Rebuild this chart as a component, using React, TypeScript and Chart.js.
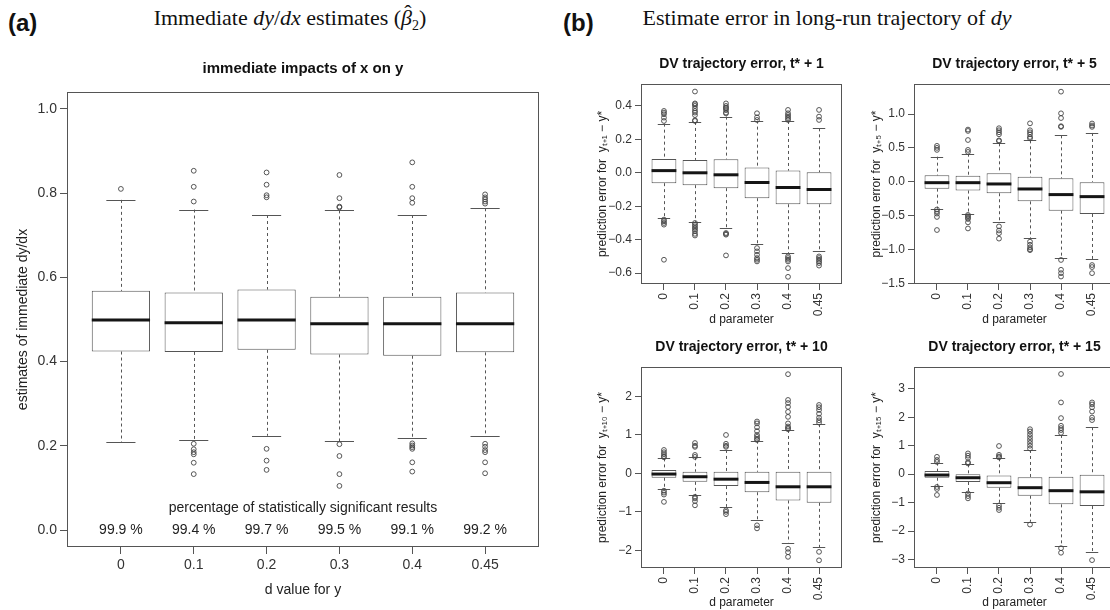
import React, { useEffect, useRef } from "react";
import { Chart, registerables } from "chart.js";

Chart.register(...registerables);

const SANS = "'Liberation Sans', Arial, Helvetica, sans-serif";
const SERIF = "'Liberation Serif', 'Times New Roman', serif";
Chart.defaults.font.family = SANS;

// ---------- shared categories ----------
const CATS = [1, 2, 3, 4, 5, 6];
const CAT_LABELS = ["0", "0.1", "0.2", "0.3", "0.4", "0.45"];
const X_MIN = 0.26;
const X_MAX = 6.74;
const BOX_W = 0.8;
const STAPLE_W = 0.4;

// ---------- panel (a): immediate impacts ----------
const A_Q1 = [0.424, 0.423, 0.428, 0.417, 0.414, 0.422];
const A_MED = [0.499, 0.492, 0.499, 0.49, 0.49, 0.49];
const A_Q3 = [0.568, 0.564, 0.571, 0.554, 0.554, 0.564];
const A_LO = [0.209, 0.214, 0.224, 0.211, 0.218, 0.223];
const A_HI = [0.784, 0.761, 0.748, 0.759, 0.748, 0.764];
const A_OUT = [
  [0.81],
  [0.853, 0.815, 0.78, 0.205, 0.192, 0.185, 0.18, 0.16, 0.133],
  [0.849, 0.82, 0.795, 0.79, 0.193, 0.165, 0.143],
  [0.843, 0.788, 0.768, 0.766, 0.204, 0.176, 0.133, 0.105],
  [0.873, 0.815, 0.788, 0.777, 0.206, 0.201, 0.197, 0.193, 0.161, 0.139],
  [0.797, 0.79, 0.785, 0.78, 0.775, 0.205, 0.198, 0.19, 0.185, 0.161, 0.135],
];
const A_PCT = ["99.9 %", "99.4 %", "99.7 %", "99.5 %", "99.1 %", "99.2 %"];
const A_PCT_CAPTION = "percentage of statistically significant results";
const A_Y_TICKS = [0, 0.2, 0.4, 0.6, 0.8, 1.0];

// ---------- panel (b1): t* + 1 ----------
const B1_Q1 = [-0.062, -0.074, -0.092, -0.152, -0.188, -0.188];
const B1_MED = [0.013, 0.0, -0.012, -0.058, -0.088, -0.1];
const B1_Q3 = [0.083, 0.077, 0.081, 0.031, 0.013, 0.004];
const B1_LO = [-0.273, -0.295, -0.331, -0.423, -0.48, -0.469];
const B1_HI = [0.294, 0.304, 0.336, 0.312, 0.31, 0.266];
const B1_OUT = [
  [0.37, 0.36, 0.35, 0.33, 0.31, -0.28, -0.29, -0.3, -0.31, -0.52],
  [0.486, 0.415, 0.41, 0.4, 0.385, 0.37, 0.36, 0.345, 0.314, 0.31, -0.3, -0.31, -0.32, -0.33, -0.34, -0.35, -0.365, -0.375],
  [0.415, 0.4, 0.39, 0.385, 0.375, 0.36, 0.355, -0.36, -0.365, -0.37, -0.494],
  [0.356, 0.332, 0.316, -0.45, -0.47, -0.49, -0.51, -0.52, -0.53],
  [0.376, 0.356, 0.345, 0.335, 0.325, 0.316, -0.5, -0.51, -0.52, -0.53, -0.57, -0.622],
  [0.376, 0.336, 0.316, -0.5, -0.51, -0.52, -0.53, -0.54, -0.555],
];
const B1_Y_TICKS = [-0.6, -0.4, -0.2, 0, 0.2, 0.4];

// ---------- panel (b2): t* + 5 ----------
const B2_Q1 = [-0.102, -0.13, -0.17, -0.29, -0.427, -0.476];
const B2_MED = [-0.014, -0.014, -0.033, -0.107, -0.19, -0.22];
const B2_Q3 = [0.094, 0.09, 0.124, 0.075, 0.05, 0.0];
const B2_LO = [-0.398, -0.47, -0.6, -0.836, -1.13, -1.14];
const B2_HI = [0.37, 0.414, 0.567, 0.611, 0.685, 0.72];
const B2_OUT = [
  [0.53, 0.5, 0.47, -0.41, -0.44, -0.47, -0.52, -0.713],
  [0.77, 0.75, 0.616, 0.47, 0.44, -0.49, -0.51, -0.53, -0.55, -0.6, -0.69],
  [0.79, 0.76, 0.73, 0.7, 0.61, 0.6, -0.66, -0.72, -0.76, -0.84],
  [0.862, 0.76, 0.73, 0.7, 0.66, 0.64, -0.885, -0.93, -0.97, -1.0, -1.01],
  [1.33, 1.01, 0.94, 0.82, 0.81, -1.155, -1.3, -1.35, -1.4],
  [0.86, 0.83, 0.81, -1.23, -1.26, -1.35],
];
const B2_Y_TICKS = [-1.5, -1.0, -0.5, 0, 0.5, 1.0];

// ---------- panel (b3): t* + 10 ----------
const B3_Q1 = [-0.113, -0.22, -0.33, -0.49, -0.704, -0.765];
const B3_MED = [-0.017, -0.087, -0.15, -0.235, -0.348, -0.348];
const B3_Q3 = [0.087, 0.043, 0.043, 0.043, 0.043, 0.043];
const B3_LO = [-0.417, -0.57, -0.87, -1.2, -1.8, -1.92];
const B3_HI = [0.39, 0.42, 0.61, 0.85, 1.13, 1.28];
const B3_OUT = [
  [0.61, 0.55, 0.5, 0.45, 0.42, -0.45, -0.5, -0.55, -0.74],
  [0.79, 0.72, 0.69, 0.48, 0.43, -0.61, -0.65, -0.72, -0.83],
  [1.0, 0.77, 0.72, 0.69, -0.96, -1.0, -1.06],
  [1.35, 1.3, 1.2, 1.1, 1.0, 0.95, 0.9, 0.87, -1.35, -1.43],
  [2.58, 1.91, 1.83, 1.73, 1.6, 1.47, 1.3, 1.22, 1.18, 1.15, -1.96, -2.05, -2.17],
  [1.78, 1.72, 1.65, 1.55, 1.45, 1.38, 1.32, -2.04, -2.26],
];
const B3_Y_TICKS = [-2, -1, 0, 1, 2];

// ---------- panel (b4): t* + 15 ----------
const B4_Q1 = [-0.125, -0.275, -0.475, -0.757, -1.06, -1.12];
const B4_MED = [-0.03, -0.125, -0.3, -0.475, -0.58, -0.62];
const B4_Q3 = [0.11, -0.005, -0.05, -0.11, -0.09, -0.02];
const B4_LO = [-0.405, -0.64, -1.03, -1.67, -2.53, -2.74];
const B4_HI = [0.405, 0.346, 0.558, 0.85, 1.38, 1.65];
const B4_OUT = [
  [0.61, 0.5, 0.43, -0.45, -0.52, -0.73],
  [0.73, 0.65, 0.57, 0.42, 0.38, -0.68, -0.77, -0.85],
  [0.99, 0.68, 0.62, 0.59, -1.1, -1.18, -1.26],
  [1.58, 1.5, 1.4, 1.3, 1.2, 1.1, 1.0, 0.9, -1.77],
  [3.52, 2.52, 1.97, 1.7, 1.62, 1.55, 1.45, -2.6, -2.76],
  [2.52, 2.45, 2.35, 2.2, 1.99, 1.9, -3.02],
];
const B4_Y_TICKS = [-3, -2, -1, 0, 1, 2, 3];

// ---------- styling ----------
const LINE = "#555555";
const MEDIAN = "#151515";
const TEXT = "#333333";
const POINT = "#444444";

const fmt1 = (v: number) => (v < 0 ? "\u2212" : "") + Math.abs(v).toFixed(1);
const fmt0 = (v: number) => (v < 0 ? "\u2212" : "") + Math.abs(v).toFixed(0);

type Spec = {
  box: { x: number; y: number; w: number; h: number };
  area: { l: number; t: number; r: number; b: number };
  title: string;
  titleSize: number;
  titleY: number;
  xTitle: string;
  xTitleY: number;
  yTitle: string;
  yTitleX: number;
  font: number;
  tickLen: number;
  yMin: number;
  yMax: number;
  yTicks: number[];
  yFmt: (v: number) => string;
  rotateX: boolean;
  q1: number[];
  med: number[];
  q3: number[];
  lo: number[];
  hi: number[];
  out: number[][];
  extra?: (chart: any) => void;
};

function boxPlugin(s: Spec) {
  return {
    id: "boxParts",
    beforeDatasetsDraw(chart: any) {
      const { ctx, scales } = chart;
      const x = scales.x;
      const y = scales.y;
      ctx.save();
      ctx.strokeStyle = LINE;
      ctx.lineWidth = 1;
      CATS.forEach((c, i) => {
        const px = Math.round(x.getPixelForValue(c)) + 0.5;
        ctx.setLineDash([3, 3]);
        ctx.beginPath();
        ctx.moveTo(px, y.getPixelForValue(s.hi[i]));
        ctx.lineTo(px, y.getPixelForValue(s.q3[i]));
        ctx.moveTo(px, y.getPixelForValue(s.q1[i]));
        ctx.lineTo(px, y.getPixelForValue(s.lo[i]));
        ctx.stroke();
        ctx.setLineDash([]);
        const x0 = x.getPixelForValue(c - STAPLE_W / 2);
        const x1 = x.getPixelForValue(c + STAPLE_W / 2);
        ctx.beginPath();
        [s.hi[i], s.lo[i]].forEach((v) => {
          const py = Math.round(y.getPixelForValue(v)) + 0.5;
          ctx.moveTo(x0, py);
          ctx.lineTo(x1, py);
        });
        ctx.stroke();
      });
      ctx.restore();
    },
    afterDatasetsDraw(chart: any) {
      const { ctx, scales, chartArea } = chart;
      const x = scales.x;
      const y = scales.y;
      ctx.save();
      ctx.strokeStyle = MEDIAN;
      ctx.lineWidth = 3;
      CATS.forEach((c, i) => {
        const py = y.getPixelForValue(s.med[i]);
        ctx.beginPath();
        ctx.moveTo(x.getPixelForValue(c - BOX_W / 2), py);
        ctx.lineTo(x.getPixelForValue(c + BOX_W / 2), py);
        ctx.stroke();
      });
      ctx.strokeStyle = LINE;
      ctx.lineWidth = 1;
      ctx.strokeRect(
        Math.round(chartArea.left) + 0.5,
        Math.round(chartArea.top) + 0.5,
        Math.round(chartArea.right - chartArea.left) - 1,
        Math.round(chartArea.bottom - chartArea.top) - 1
      );
      ctx.restore();
      if (s.extra) s.extra(chart);
    },
  };
}

function BoxPanel({ spec }: { spec: Spec }) {
  const ref = useRef<HTMLCanvasElement | null>(null);
  useEffect(() => {
    const canvas = ref.current;
    if (!canvas) return;
    const { box, area } = spec;
    const tLh = spec.titleSize * 1.2;
    const fLh = spec.font * 1.2;
    const titleTop = spec.titleY - box.y - tLh / 2;
    const titleBottom = area.t - box.y - titleTop - tLh;
    const yAxisW = area.l - box.x;
    const xAxisH = box.y + box.h - area.b;
    const padRight = box.x + box.w - area.r;
    const yTitlePad = spec.yTitleX - box.x - fLh / 2;
    const xTitlePad = Math.max(0, box.y + box.h - spec.xTitleY - fLh / 2);

    const points = spec.out.flatMap((arr, i) => arr.map((v) => ({ x: CATS[i], y: v })));
    const boxes = CATS.map((c, i) => ({ x: c, y: [spec.q1[i], spec.q3[i]] }));

    const chart = new Chart(canvas, {
      type: "bar",
      data: {
        datasets: [
          {
            type: "scatter",
            data: points,
            pointRadius: 2.4,
            pointHoverRadius: 2.4,
            pointBorderWidth: 0.9,
            borderColor: POINT,
            backgroundColor: "rgba(0,0,0,0)",
            pointStyle: "circle",
            order: 0,
          } as any,
          {
            type: "bar",
            data: boxes as any,
            backgroundColor: "#ffffff",
            borderColor: LINE,
            borderWidth: 1,
            borderSkipped: false,
            barPercentage: BOX_W,
            categoryPercentage: 1,
            order: 1,
          } as any,
        ],
      },
      options: {
        animation: false,
        responsive: false,
        devicePixelRatio: 1,
        events: [],
        layout: { padding: { top: 0, left: 0, bottom: 0, right: padRight } },
        plugins: {
          legend: { display: false },
          tooltip: { enabled: false },
          title: {
            display: true,
            text: spec.title,
            color: "#111111",
            fullSize: false,
            font: { size: spec.titleSize, weight: "bold", family: SANS },
            padding: { top: titleTop, bottom: titleBottom },
          },
        },
        scales: {
          x: {
            type: "linear",
            min: X_MIN,
            max: X_MAX,
            offset: false,
            afterBuildTicks: (sc: any) => {
              sc.ticks = CATS.map((v) => ({ value: v }));
            },
            afterFit: (sc: any) => {
              sc.height = xAxisH;
            },
            ticks: {
              autoSkip: false,
              color: TEXT,
              padding: 3,
              minRotation: spec.rotateX ? 90 : 0,
              maxRotation: spec.rotateX ? 90 : 0,
              font: { size: spec.font, family: SANS },
              callback: (v: any) => CAT_LABELS[CATS.indexOf(Number(v))] ?? "",
            },
            grid: {
              offset: false,
              drawOnChartArea: false,
              drawTicks: true,
              tickLength: spec.tickLen,
              color: LINE,
            },
            border: { display: false },
            title: {
              display: true,
              text: spec.xTitle,
              color: "#222222",
              font: { size: spec.font, family: SANS },
              padding: { top: 0, bottom: xTitlePad },
            },
          },
          y: {
            type: "linear",
            min: spec.yMin,
            max: spec.yMax,
            afterBuildTicks: (sc: any) => {
              sc.ticks = spec.yTicks.map((v) => ({ value: v }));
            },
            afterFit: (sc: any) => {
              sc.width = yAxisW;
            },
            ticks: {
              autoSkip: false,
              color: TEXT,
              padding: 3,
              font: { size: spec.font, family: SANS },
              callback: (v: any) => spec.yFmt(Number(v)),
            },
            grid: {
              drawOnChartArea: false,
              drawTicks: true,
              tickLength: spec.tickLen,
              color: LINE,
            },
            border: { display: false },
            title: {
              display: true,
              text: spec.yTitle,
              color: "#222222",
              font: { size: spec.font, family: SANS },
              padding: { top: yTitlePad, bottom: 0 },
            },
          },
        },
      } as any,
      plugins: [boxPlugin(spec) as any],
    });
    return () => chart.destroy();
  }, [spec]);

  return (
    <canvas
      ref={ref}
      width={spec.box.w}
      height={spec.box.h}
      style={{
        position: "absolute",
        left: spec.box.x,
        top: spec.box.y,
        width: spec.box.w,
        height: spec.box.h,
      }}
    />
  );
}

const drawPercentages = (chart: any) => {
  const { ctx, scales } = chart;
  const x = scales.x;
  const y = scales.y;
  ctx.save();
  ctx.fillStyle = "#222222";
  ctx.font = `14px ${SANS}`;
  ctx.textAlign = "center";
  ctx.textBaseline = "middle";
  ctx.fillText(A_PCT_CAPTION, x.getPixelForValue(3.5), y.getPixelForValue(0.053));
  CATS.forEach((c, i) => {
    ctx.fillText(A_PCT[i], x.getPixelForValue(c), y.getPixelForValue(0));
  });
  ctx.restore();
};

const SPEC_A: Spec = {
  box: { x: 0, y: 40, w: 545, h: 570 },
  area: { l: 67, t: 92, r: 539, b: 547 },
  title: "immediate impacts of x on y",
  titleSize: 15,
  titleY: 69,
  xTitle: "d value for y",
  xTitleY: 590,
  yTitle: "estimates of immediate dy/dx",
  yTitleX: 23,
  font: 14,
  tickLen: 7,
  yMin: -0.04,
  yMax: 1.04,
  yTicks: A_Y_TICKS,
  yFmt: (v) => v.toFixed(1),
  rotateX: false,
  q1: A_Q1,
  med: A_MED,
  q3: A_Q3,
  lo: A_LO,
  hi: A_HI,
  out: A_OUT,
  extra: drawPercentages,
};

const SUB_COMMON = {
  titleSize: 14,
  xTitle: "d parameter",
  font: 12,
  tickLen: 6,
  rotateX: true,
};

const SPEC_B1: Spec = {
  ...SUB_COMMON,
  box: { x: 560, y: 40, w: 288, h: 290 },
  area: { l: 641, t: 84, r: 842, b: 284 },
  title: "DV trajectory error, t* + 1",
  titleY: 64,
  xTitleY: 320,
  yTitle: "prediction error for  y\u209C\u208A\u2081 \u2212 y*",
  yTitleX: 603,
  yMin: -0.665,
  yMax: 0.531,
  yTicks: B1_Y_TICKS,
  yFmt: fmt1,
  q1: B1_Q1,
  med: B1_MED,
  q3: B1_Q3,
  lo: B1_LO,
  hi: B1_HI,
  out: B1_OUT,
};

const SPEC_B2: Spec = {
  ...SUB_COMMON,
  box: { x: 848, y: 40, w: 273, h: 290 },
  area: { l: 914, t: 84, r: 1115, b: 284 },
  title: "DV trajectory error, t* + 5",
  titleY: 64,
  xTitleY: 320,
  yTitle: "prediction error for  y\u209C\u208A\u2085 \u2212 y*",
  yTitleX: 877,
  yMin: -1.51,
  yMax: 1.443,
  yTicks: B2_Y_TICKS,
  yFmt: fmt1,
  q1: B2_Q1,
  med: B2_MED,
  q3: B2_Q3,
  lo: B2_LO,
  hi: B2_HI,
  out: B2_OUT,
};

const SPEC_B3: Spec = {
  ...SUB_COMMON,
  box: { x: 560, y: 323, w: 288, h: 287 },
  area: { l: 641, t: 367, r: 842, b: 568 },
  title: "DV trajectory error, t* + 10",
  titleY: 347,
  xTitleY: 603,
  yTitle: "prediction error for  y\u209C\u208A\u2081\u2080 \u2212 y*",
  yTitleX: 603,
  yMin: -2.46,
  yMax: 2.767,
  yTicks: B3_Y_TICKS,
  yFmt: fmt0,
  q1: B3_Q1,
  med: B3_MED,
  q3: B3_Q3,
  lo: B3_LO,
  hi: B3_HI,
  out: B3_OUT,
};

const SPEC_B4: Spec = {
  ...SUB_COMMON,
  box: { x: 848, y: 323, w: 273, h: 287 },
  area: { l: 914, t: 367, r: 1115, b: 568 },
  title: "DV trajectory error, t* + 15",
  titleY: 347,
  xTitleY: 603,
  yTitle: "prediction error for  y\u209C\u208A\u2081\u2085 \u2212 y*",
  yTitleX: 877,
  yMin: -3.296,
  yMax: 3.765,
  yTicks: B4_Y_TICKS,
  yFmt: fmt0,
  q1: B4_Q1,
  med: B4_MED,
  q3: B4_Q3,
  lo: B4_LO,
  hi: B4_HI,
  out: B4_OUT,
};

const SPECS = [SPEC_A, SPEC_B1, SPEC_B2, SPEC_B3, SPEC_B4];

export default function App() {
  const tag: React.CSSProperties = {
    position: "absolute",
    fontFamily: SANS,
    fontWeight: "bold",
    fontSize: 24,
    lineHeight: "24px",
    color: "#111",
    whiteSpace: "nowrap",
  };
  const head: React.CSSProperties = {
    position: "absolute",
    fontFamily: SERIF,
    fontSize: 22,
    lineHeight: "22px",
    color: "#111",
    textAlign: "center",
    whiteSpace: "nowrap",
  };
  return (
    <div
      style={{
        position: "fixed",
        left: 0,
        top: 0,
        width: 1110,
        height: 610,
        overflow: "hidden",
        background: "#ffffff",
      }}
    >
      <div style={{ ...tag, left: 8, top: 11 }}>(a)</div>
      <div style={{ ...head, left: 90, width: 400, top: 7 }}>
        Immediate <i>dy</i>/<i>dx</i> estimates (
        <i style={{ position: "relative", display: "inline-block" }}>
          {"\u03B2"}
          <span
            style={{
              position: "absolute",
              left: "0.14em",
              top: "-0.22em",
              fontStyle: "normal",
            }}
          >
            {"\u02C6"}
          </span>
        </i>
        <sub style={{ fontSize: 14, lineHeight: "0" }}>2</sub>)
      </div>
      <div style={{ ...tag, left: 563, top: 11 }}>(b)</div>
      <div style={{ ...head, left: 627, width: 400, top: 7 }}>
        Estimate error in long-run trajectory of <i>dy</i>
      </div>
      {SPECS.map((s, i) => (
        <BoxPanel key={i} spec={s} />
      ))}
    </div>
  );
}
